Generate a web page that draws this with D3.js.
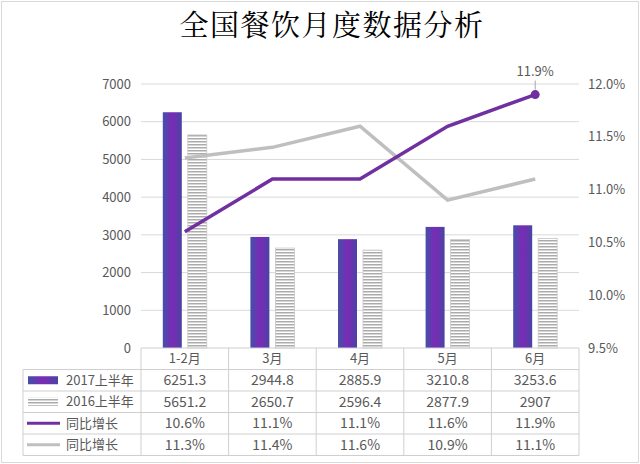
<!DOCTYPE html>
<html>
<head>
<meta charset="utf-8">
<script src="https://cdn.jsdelivr.net/npm/d3@7"></script>
<style>
  body { margin: 0; background: #fff; }
  text { font-family: "Noto Sans CJK SC", "Noto Sans", sans-serif; }
</style>
</head>
<body>
<script>
// chart data
var months = ["1-2月", "3月", "4月", "5月", "6月"];
var sales2017 = [6251.3, 2944.8, 2885.9, 3210.8, 3253.6];
var sales2016 = [5651.2, 2650.7, 2596.4, 2877.9, 2907];
var growth2017 = [10.6, 11.1, 11.1, 11.6, 11.9];
var growth2016 = [11.3, 11.4, 11.6, 10.9, 11.1];
var leftTicks = [0, 1000, 2000, 3000, 4000, 5000, 6000, 7000];
var rightTicks = [9.5, 10.0, 10.5, 11.0, 11.5, 12.0];

var W = 640, H = 464;
var plot = {left: 141, right: 579, top: 84, bottom: 348};
var rowH = 21.5;
var purple = "#7030a0", lightGray = "#bfbfbf", textCol = "#595959", gridCol = "#d9d9d9";

var svg = d3.select("body").append("svg")
    .attr("width", W).attr("height", H);

var defs = svg.append("defs");

// gradient for 2017 bars (bluish edges, purple middle)
var grad = defs.append("linearGradient").attr("id", "barGrad")
    .attr("x1", "0%").attr("x2", "100%").attr("y1", "0%").attr("y2", "0%");
grad.append("stop").attr("offset", "0%").attr("stop-color", "#4350a8");
grad.append("stop").attr("offset", "50%").attr("stop-color", "#7b2ab6");
grad.append("stop").attr("offset", "100%").attr("stop-color", "#4a44a4");

// stripes for 2016 bars
var pat = defs.append("pattern").attr("id", "stripes")
    .attr("patternUnits", "userSpaceOnUse").attr("width", 6).attr("height", 3);
pat.append("rect").attr("width", 6).attr("height", 3).attr("fill", "#fff");
pat.append("rect").attr("width", 6).attr("height", 1.5).attr("fill", "#ababab");

// outer frame
svg.append("rect").attr("x", 1.5).attr("y", 1.5)
    .attr("width", W - 3).attr("height", H - 3)
    .attr("fill", "#fff").attr("stroke", gridCol);

// title
svg.append("text").text("全国餐饮月度数据分析")
    .attr("x", 332).attr("y", 36).attr("text-anchor", "middle")
    .style("font-family", "'Noto Serif CJK SC', 'Noto Sans CJK SC', serif")
    .attr("font-size", 29).attr("letter-spacing", 1.5).attr("fill", "#000");

// scales
var x = d3.scaleBand().domain(months).range([plot.left, plot.right]);
var yL = d3.scaleLinear().domain([0, 7000]).range([plot.bottom, plot.top]);
var yR = d3.scaleLinear().domain([9.5, 12.0]).range([plot.bottom, plot.top]);

// gridlines
svg.append("g").selectAll("line").data(leftTicks.slice(1)).enter().append("line")
    .attr("x1", plot.left).attr("x2", plot.right)
    .attr("y1", function(d){ return yL(d); }).attr("y2", function(d){ return yL(d); })
    .attr("stroke", gridCol).attr("stroke-width", 1);

// axes
var axL = svg.append("g").attr("transform", "translate(" + (plot.left - 10) + ",0)")
    .call(d3.axisLeft(yL).tickValues(leftTicks).tickSize(0).tickPadding(0)
        .tickFormat(d3.format("d")));
var axR = svg.append("g").attr("transform", "translate(" + (plot.right + 9) + ",0)")
    .call(d3.axisRight(yR).tickValues(rightTicks).tickSize(0).tickPadding(0)
        .tickFormat(function(d){ return d3.format(".1f")(d) + "%"; }));
[axL, axR].forEach(function(ax){
    ax.select(".domain").remove();
    ax.selectAll("text").attr("fill", textCol).attr("font-size", 13)
        .style("font-family", "'Noto Sans CJK SC', sans-serif");
});

// bars
var barW = 19, gap = 6;
svg.append("g").selectAll("rect").data(months).enter().append("rect")
    .attr("x", function(d){ return x(d) + x.bandwidth() / 2 - gap / 2 - barW; })
    .attr("y", function(d, i){ return yL(sales2017[i]); })
    .attr("width", barW)
    .attr("height", function(d, i){ return plot.bottom - yL(sales2017[i]); })
    .attr("fill", "url(#barGrad)");
svg.append("g").selectAll("rect").data(months).enter().append("rect")
    .attr("x", function(d){ return x(d) + x.bandwidth() / 2 + gap / 2; })
    .attr("y", function(d, i){ return yL(sales2016[i]); })
    .attr("width", barW)
    .attr("height", function(d, i){ return plot.bottom - yL(sales2016[i]); })
    .attr("fill", "url(#stripes)").attr("stroke", "#c8c8c8").attr("stroke-width", 0.8);

// lines
var line = d3.line()
    .x(function(d, i){ return x(months[i]) + x.bandwidth() / 2; })
    .y(function(d){ return yR(d); });
svg.append("path").datum(growth2016).attr("d", line)
    .attr("fill", "none").attr("stroke", lightGray).attr("stroke-width", 3.5);
svg.append("path").datum(growth2017).attr("d", line)
    .attr("fill", "none").attr("stroke", purple).attr("stroke-width", 3.5);

// marker + label on last point
var lastI = months.length - 1;
var lx = x(months[lastI]) + x.bandwidth() / 2, ly = yR(growth2017[lastI]);
svg.append("circle").attr("cx", lx).attr("cy", ly).attr("r", 4.5).attr("fill", purple);
svg.append("line").attr("x1", lx).attr("x2", lx).attr("y1", ly - 14).attr("y2", ly - 5)
    .attr("stroke", "#a6a6a6").attr("stroke-width", 1);
svg.append("text").text(growth2017[lastI] + "%")
    .attr("x", lx).attr("y", ly - 19).attr("text-anchor", "middle")
    .attr("font-size", 13).attr("fill", textCol);

// data table
var tableLeft = 23, tTop = plot.bottom;
var tbl = svg.append("g");
var tStroke = "#cfcfcf";
// header row top
tbl.append("line").attr("x1", plot.left).attr("x2", plot.right)
    .attr("y1", tTop).attr("y2", tTop).attr("stroke", tStroke);
// other horizontal lines
d3.range(1, 6).forEach(function(r){
    tbl.append("line").attr("x1", tableLeft).attr("x2", plot.right)
        .attr("y1", tTop + r * rowH).attr("y2", tTop + r * rowH).attr("stroke", tStroke);
});
// vertical lines
tbl.append("line").attr("x1", tableLeft).attr("x2", tableLeft)
    .attr("y1", tTop + rowH).attr("y2", tTop + 5 * rowH).attr("stroke", tStroke);
months.forEach(function(m){
    tbl.append("line").attr("x1", x(m)).attr("x2", x(m))
        .attr("y1", tTop).attr("y2", tTop + 5 * rowH).attr("stroke", tStroke);
});
tbl.append("line").attr("x1", plot.right).attr("x2", plot.right)
    .attr("y1", tTop).attr("y2", tTop + 5 * rowH).attr("stroke", tStroke);

tbl.selectAll("text.head").data(months).enter().append("text")
    .attr("x", function(d){ return x(d) + x.bandwidth() / 2; })
    .attr("y", tTop + rowH / 2).attr("dy", "0.36em")
    .attr("text-anchor", "middle").attr("font-size", 13).attr("fill", textCol)
    .text(function(d){ return d; });

var rows = [
    {name: "2017上半年", vals: sales2017, fmt: function(d){ return String(d); }, key: "bar17"},
    {name: "2016上半年", vals: sales2016, fmt: function(d){ return String(d); }, key: "bar16"},
    {name: "同比增长", vals: growth2017, fmt: function(d){ return d3.format(".1f")(d) + "%"; }, key: "line17"},
    {name: "同比增长", vals: growth2016, fmt: function(d){ return d3.format(".1f")(d) + "%"; }, key: "line16"}
];

rows.forEach(function(row, r){
    var cy = tTop + (r + 1) * rowH + rowH / 2;
    // legend key
    if (row.key == "bar17") {
        tbl.append("rect").attr("x", 28).attr("y", cy - 4).attr("width", 30).attr("height", 8)
            .attr("fill", "url(#barGrad)");
    } else if (row.key == "bar16") {
        tbl.append("rect").attr("x", 28).attr("y", cy - 4).attr("width", 30).attr("height", 8)
            .attr("fill", "url(#stripes)");
    } else {
        tbl.append("line").attr("x1", 27).attr("x2", 60).attr("y1", cy).attr("y2", cy)
            .attr("stroke", row.key == "line17" ? purple : lightGray).attr("stroke-width", 3);
    }
    tbl.append("text").text(row.name)
        .attr("x", 66).attr("y", cy).attr("dy", "0.36em")
        .attr("font-size", 13).attr("fill", textCol);
    tbl.selectAll(null).data(row.vals).enter().append("text")
        .attr("x", function(d, i){ return x(months[i]) + x.bandwidth() / 2; })
        .attr("y", cy).attr("dy", "0.36em")
        .attr("text-anchor", "middle").attr("font-size", 14).attr("fill", textCol)
        .text(row.fmt);
});
</script>
</body>
</html>
